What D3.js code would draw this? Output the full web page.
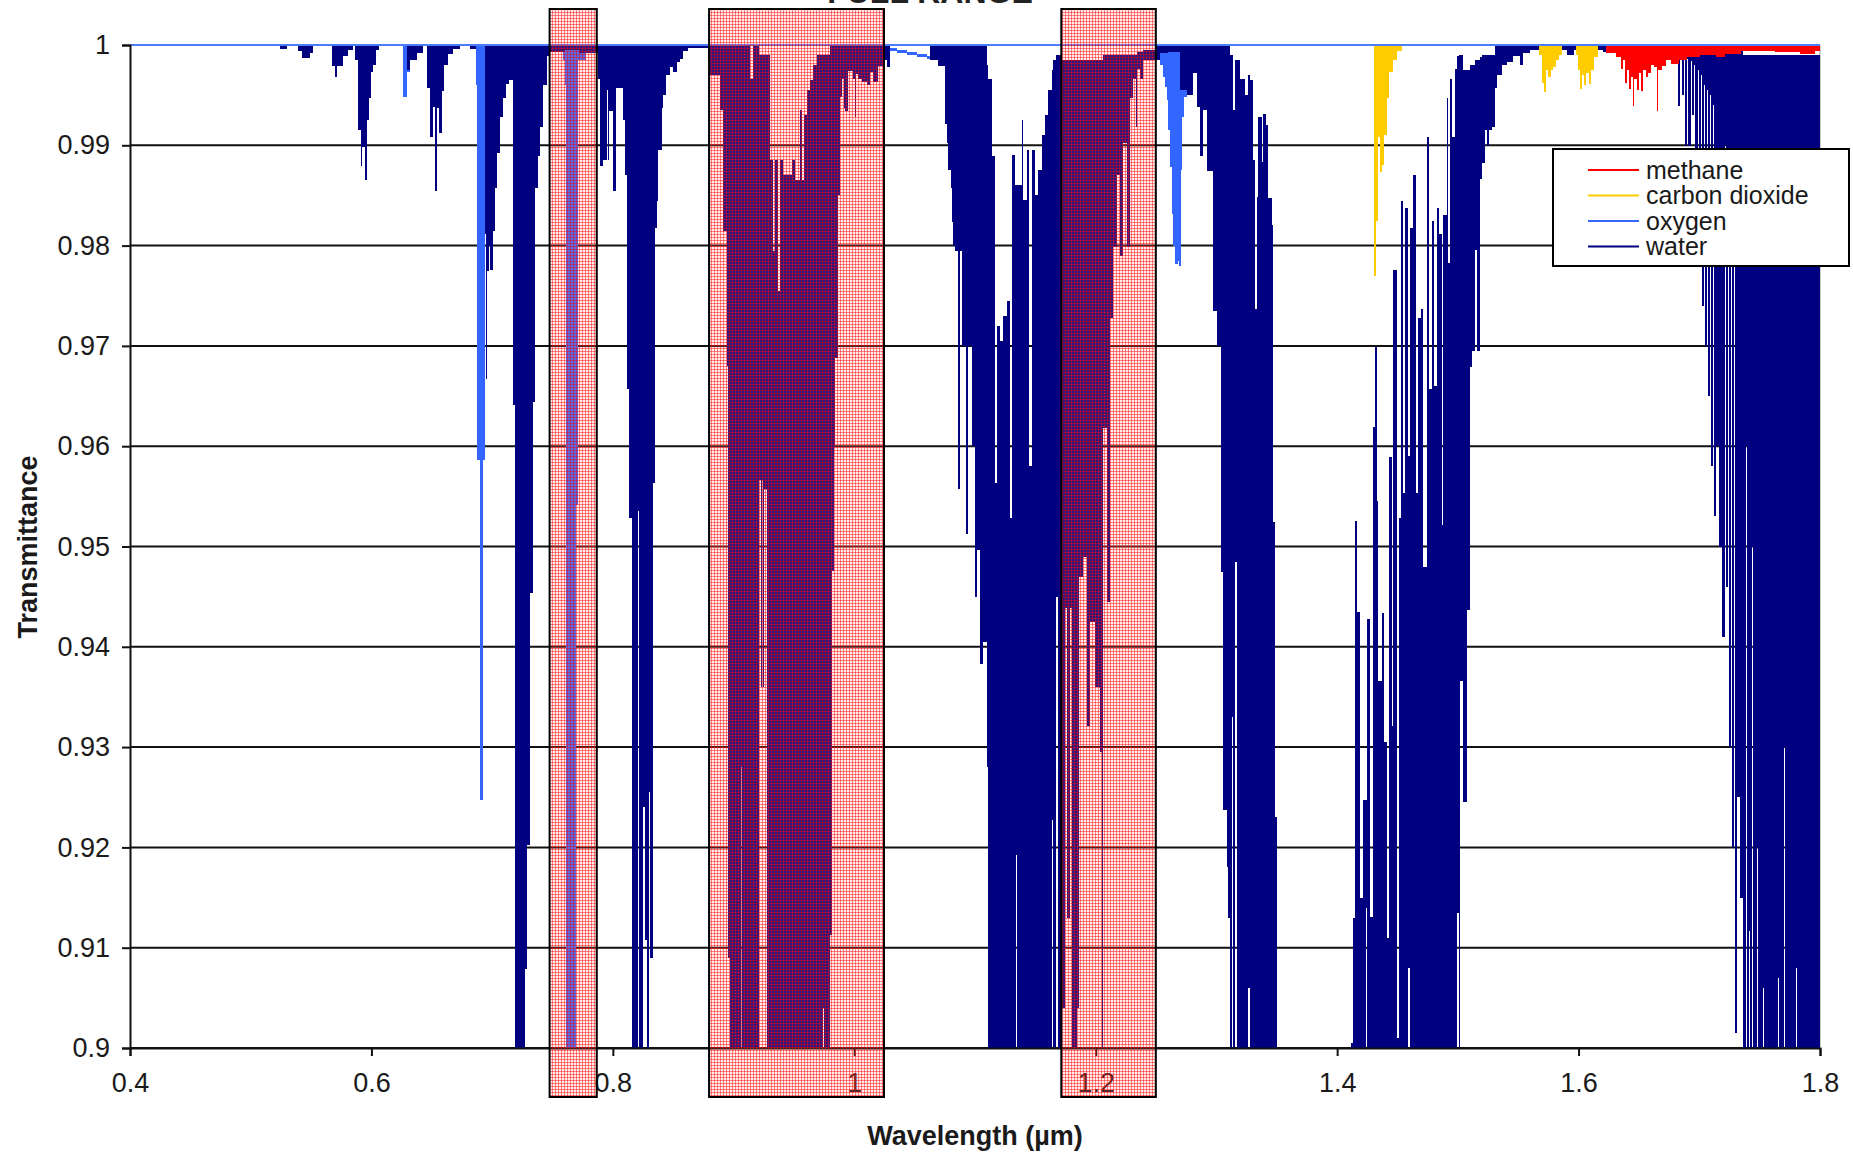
<!DOCTYPE html>
<html>
<head>
<meta charset="utf-8">
<script src="https://cdn.jsdelivr.net/npm/d3@7"></script>
<style>
  body { margin: 0; background: #fff; }
  svg { display: block; }
  text { font-family: "Liberation Sans", Arial, sans-serif; fill: #1a1a1a; }
</style>
</head>
<body>
<svg id="chart" width="1853" height="1153"></svg>
<script>
// axis ticks
const xTicks = [0.4, 0.6, 0.8, 1, 1.2, 1.4, 1.6, 1.8];
const xTickLabels = ['0.4', '0.6', '0.8', '1', '1.2', '1.4', '1.6', '1.8'];
const yTicks = [0.9, 0.91, 0.92, 0.93, 0.94, 0.95, 0.96, 0.97, 0.98, 0.99, 1];
const yTickLabels = ['0.9', '0.91', '0.92', '0.93', '0.94', '0.95', '0.96', '0.97', '0.98', '0.99', '1'];

const seriesNames = ['methane', 'carbon dioxide', 'oxygen', 'water'];
const seriesColors = ['#ff0000', '#ffcc00', '#3366ff', '#000080'];

// wavelength windows marked with the hatched boxes (µm)
const highlightBands = [[0.7476, 0.7867], [0.8797, 1.0246], [1.1715, 1.2498]];

// spectrum, binned: [wavelength µm, lowest T, highest T (default 1)]
// each bin runs until the next entry
const water = [
  [0.5242, 0.9996], [0.5298, 1],
  [0.5394, 0.9994], [0.5422, 0.9987], [0.5491, 0.9992], [0.5518, 1],
  [0.5670, 0.9979], [0.5698, 0.9968], [0.5717, 0.9979], [0.5767, 0.9989], [0.5808, 0.9995], [0.5850, 1],
  [0.5864, 0.9985], [0.5891, 0.9915], [0.5910, 0.9879], [0.5921, 0.9898], [0.5944, 0.9865], [0.5960, 0.9925],
  [0.5977, 0.9947], [0.5993, 0.9973], [0.6015, 0.9980], [0.6037, 0.9995], [0.6065, 1],
  [0.6292, 0.9975], [0.6320, 0.9985], [0.6375, 0.9992], [0.6430, 1],
  [0.6457, 0.9957], [0.6485, 0.9908], [0.6507, 0.9938], [0.6523, 0.9854], [0.6540, 0.9937], [0.6562, 0.9912],
  [0.6581, 0.9954], [0.6601, 0.9980], [0.6637, 0.9991], [0.6678, 0.9996], [0.6733, 1],
  [0.6816, 0.9996], [0.6866, 1],
  [0.6940, 0.9812], [0.6950, 0.9667], [0.6958, 0.9775], [0.6975, 0.9800], [0.6985, 0.9776], [0.7004, 0.9815],
  [0.7023, 0.9857], [0.7043, 0.9892], [0.7065, 0.9928], [0.7087, 0.9947], [0.7112, 0.9961], [0.7137, 0.9965],
  [0.7170, 0.9641], [0.7189, 0.895], [0.7272, 0.9079], [0.7292, 0.9202], [0.7313, 0.9454], [0.7335, 0.9644],
  [0.7355, 0.9857], [0.7382, 0.9889], [0.7396, 0.9918], [0.7424, 0.9960], [0.7451, 0.9989], [0.7468, 0.9993],
  [0.7600, 0.9995], [0.7720, 0.9992],
  [0.7866, 0.9992], [0.7879, 0.9966], [0.7893, 0.9879], [0.7921, 0.9885], [0.7948, 0.9955], [0.7962, 0.9885],
  [0.7970, 0.9934], [0.8001, 0.9854], [0.8026, 0.9957], [0.8087, 0.9925], [0.8100, 0.9870], [0.8120, 0.9657],
  [0.8136, 0.9528], [0.8155, 0.895], [0.8209, 0.9535], [0.8219, 0.895], [0.8252, 0.9240], [0.8269, 0.9108],
  [0.8285, 0.895], [0.8300, 0.9255], [0.8311, 0.9090], [0.8335, 0.9563], [0.8349, 0.9818], [0.8362, 0.9844],
  [0.8376, 0.9895], [0.8404, 0.9937], [0.8418, 0.9950], [0.8440, 0.9970], [0.8473, 0.9978], [0.8501, 0.9973],
  [0.8528, 0.9983], [0.8556, 0.9986], [0.8583, 0.9994], [0.8625, 0.9997],
  [0.8790, 0.9986], [0.8804, 0.9970], [0.8887, 0.9935], [0.8915, 0.9815], [0.8942, 0.9680], [0.8956, 0.9090],
  [0.8970, 0.895], [0.9058, 0.9280], [0.9066, 0.895], [0.9135, 0.895, 0.9966], [0.9165, 0.895],
  [0.9214, 0.9566, 0.999], [0.9225, 0.9360, 0.999], [0.9233, 0.9566, 0.999], [0.9240, 0.9360, 0.999],
  [0.9248, 0.9557, 0.999], [0.9280, 0.895, 0.999], [0.9302, 0.895, 0.9885], [0.9330, 0.895, 0.9795],
  [0.9344, 0.895, 0.9885], [0.9372, 0.895, 0.9755], [0.9385, 0.895, 0.9885], [0.9413, 0.895, 0.9870],
  [0.9480, 0.895, 0.9885], [0.9510, 0.895, 0.9865], [0.9551, 0.895, 0.9935], [0.9565, 0.895, 0.9865],
  [0.9580, 0.895, 0.9930], [0.9606, 0.895, 0.9955], [0.9634, 0.895, 0.9965], [0.9661, 0.895, 0.9980],
  [0.9689, 0.895, 0.999], [0.9738, 0.904, 0.999], [0.9752, 0.895, 0.999], [0.9799, 0.9113], [0.9813, 0.9476],
  [0.9832, 0.9599], [0.9843, 0.9688], [0.9868, 0.9850], [0.9882, 0.9948], [0.9896, 0.9966], [0.9915, 0.9937],
  [0.9921, 0.9966], [0.9924, 0.9934], [0.9951, 0.9974], [0.9993, 0.9966], [1.0003, 0.9928], [1.0011, 0.9971],
  [1.0034, 0.9966], [1.0062, 0.9963], [1.0103, 0.9960], [1.0131, 0.9973], [1.0158, 0.9963], [1.0200, 0.9979],
  [1.0241, 0.9985], [1.0269, 0.9978], [1.0297, 1],
  [1.0628, 0.9985], [1.0697, 0.9979], [1.0752, 0.9921], [1.0766, 0.9902], [1.0780, 0.9875], [1.0799, 0.9857],
  [1.0812, 0.9824], [1.0821, 0.9800], [1.0835, 0.9795], [1.0860, 0.9557], [1.0876, 0.9795], [1.0890, 0.9700],
  [1.0928, 0.9512], [1.0940, 0.9700], [1.0973, 0.9600], [1.1000, 0.9450], [1.1020, 0.9497], [1.1042, 0.9383],
  [1.1069, 0.9405], [1.1097, 0.9280, 0.998], [1.1111, 0.895, 0.9966], [1.1139, 0.895, 0.9889],
  [1.1166, 0.895, 0.9860], [1.1169, 0.895, 0.9563], [1.1180, 0.895, 0.9720], [1.1208, 0.895, 0.9705],
  [1.1235, 0.895, 0.9730], [1.1263, 0.895, 0.9745], [1.1290, 0.895, 0.9528], [1.1304, 0.895, 0.9890],
  [1.1332, 0.895, 0.9860], [1.1340, 0.9192, 0.9860], [1.1351, 0.895, 0.9860], [1.1387, 0.895, 0.9925],
  [1.1401, 0.895, 0.9845], [1.1429, 0.895, 0.9895], [1.1451, 0.895, 0.9580], [1.1470, 0.895, 0.9895],
  [1.1498, 0.895, 0.9850], [1.1525, 0.895, 0.9875], [1.1553, 0.895, 0.9910], [1.1580, 0.895, 0.9930],
  [1.1608, 0.895, 0.9955], [1.1636, 0.9227, 0.9975], [1.1649, 0.895, 0.9985], [1.1671, 0.9450, 0.999],
  [1.1691, 0.895, 0.999],
  [1.1718, 0.904, 0.9985], [1.1746, 0.9439, 0.9985], [1.1765, 0.913, 0.9985], [1.1787, 0.9439, 0.9985],
  [1.1801, 0.895, 0.9985], [1.1843, 0.904, 0.9985], [1.1865, 0.9470, 0.9985], [1.1898, 0.9490, 0.9985],
  [1.1926, 0.9321, 0.9985], [1.1953, 0.9425, 0.9985], [1.1995, 0.9360, 0.9985], [1.2036, 0.9295, 0.9985],
  [1.2050, 0.895, 0.9985], [1.2058, 0.9295, 0.9985], [1.2064, 0.9618, 0.999], [1.2091, 0.9445, 0.999],
  [1.2119, 0.9728, 0.999], [1.2146, 0.9799, 0.999], [1.2174, 0.9870, 0.999], [1.2202, 0.9790, 0.999],
  [1.2229, 0.9902, 0.999], [1.2257, 0.9799, 0.999], [1.2284, 0.9947, 0.999], [1.2312, 0.9966, 0.999],
  [1.2334, 0.9918, 0.999], [1.2340, 0.9976, 0.9993], [1.2367, 0.9966, 0.9993], [1.2395, 0.9985, 0.9995],
  [1.2500, 0.9985], [1.2533, 0.9992], [1.2600, 0.9993], [1.2699, 0.9955], [1.2754, 0.9950], [1.2809, 0.9972],
  [1.2837, 0.9938], [1.2864, 0.9889], [1.2892, 0.9935], [1.2919, 0.9874], [1.2975, 0.9735], [1.3002, 0.9700],
  [1.3036, 0.9475], [1.3058, 0.9237], [1.3085, 0.9180], [1.3099, 0.9130], [1.3113, 0.895, 0.999],
  [1.3127, 0.933, 0.999], [1.3141, 0.895, 0.9935], [1.3155, 0.9485, 0.9985], [1.3168, 0.895, 0.9985],
  [1.3196, 0.895, 0.9966], [1.3237, 0.895, 0.9950], [1.3265, 0.906, 0.9970], [1.3279, 0.895, 0.9965],
  [1.3306, 0.895, 0.9885], [1.3320, 0.895, 0.9737], [1.3334, 0.895, 0.9848], [1.3348, 0.895, 0.9928],
  [1.3375, 0.895, 0.9883], [1.3389, 0.895, 0.9931], [1.3410, 0.895, 0.9920], [1.3430, 0.895, 0.9847],
  [1.3458, 0.895, 0.9821], [1.3472, 0.895, 0.9524], [1.3486, 0.895, 0.9230], [1.3505, 1],
  [1.4112, 0.895, 0.9005], [1.4135, 0.895, 0.913], [1.4151, 0.895, 0.9525], [1.4168, 0.895, 0.9435],
  [1.4190, 0.895, 0.9150], [1.4217, 0.895, 0.9247], [1.4240, 0.914, 0.9247], [1.4245, 0.895, 0.9428],
  [1.4273, 0.895, 0.9131], [1.4295, 0.895, 0.9619], [1.4314, 0.895, 0.9699], [1.4328, 0.895, 0.9545],
  [1.4342, 0.895, 0.9366], [1.4369, 0.895, 0.9434], [1.4389, 0.895, 0.9305], [1.4411, 0.895, 0.911],
  [1.4433, 0.895, 0.9589], [1.4452, 0.895, 0.9321], [1.4466, 0.895, 0.9776], [1.4499, 0.895, 0.901],
  [1.4510, 0.895, 0.9528], [1.4527, 0.895, 0.9844], [1.4549, 0.895, 0.9553], [1.4563, 0.895, 0.9837],
  [1.4590, 0.908, 0.959], [1.4604, 0.895, 0.9818], [1.4632, 0.895, 0.987], [1.4651, 0.895, 0.9553],
  [1.4673, 0.895, 0.9728], [1.4692, 0.895, 0.9737], [1.4709, 0.895, 0.9269], [1.4714, 0.895, 0.948],
  [1.4742, 0.895, 0.9908], [1.4761, 0.895, 0.9657], [1.4783, 0.895, 0.9825], [1.4803, 0.895, 0.966],
  [1.4825, 0.895, 0.9837], [1.4847, 0.895, 0.9812], [1.4866, 0.895, 0.9521], [1.4880, 0.895, 0.9831],
  [1.4908, 0.895, 0.9947], [1.4921, 0.895, 0.9783], [1.4935, 0.895, 0.9966], [1.4949, 0.895, 0.9908],
  [1.4977, 0.895, 0.9976], [1.4996, 0.9135, 0.9989], [1.5010, 0.895, 0.999], [1.5018, 0.9366, 0.999],
  [1.5040, 0.9245, 0.9975], [1.5079, 0.9437, 0.9975], [1.5101, 0.9679, 0.998], [1.5118, 0.9695, 0.998],
  [1.5142, 0.9796, 0.9985], [1.5162, 0.9695, 0.9985], [1.5184, 0.9866, 0.9988], [1.5200, 0.9882, 0.999],
  [1.5225, 0.9915, 0.999], [1.5244, 0.9899, 0.999], [1.5261, 0.9915, 0.999], [1.5280, 0.9918, 0.999],
  [1.5308, 0.9957], [1.5322, 0.9970], [1.5363, 0.9980], [1.5405, 0.9983], [1.5460, 0.9989], [1.5515, 0.9980],
  [1.5543, 0.9992], [1.5598, 0.9995], [1.5700, 0.9990], [1.5760, 0.9995], [1.5800, 0.9988], [1.5840, 0.9995],
  [1.5900, 0.9990], [1.5960, 0.9995], [1.6050, 0.9990], [1.6120, 0.9995], [1.6200, 0.9993], [1.6260, 1],
  [1.6810, 0.9995], [1.6822, 0.9939], [1.6844, 0.9990], [1.6856, 0.9950], [1.6874, 0.9988],
  [1.6882, 0.9899], [1.6902, 0.9986], [1.6910, 0.9899], [1.6930, 0.9984], [1.6938, 0.9930], [1.6956, 0.9980],
  [1.6965, 0.9880], [1.6987, 0.9975], [1.6995, 0.9800], [1.7017, 0.9970], [1.7022, 0.9740], [1.7042, 0.9960],
  [1.7046, 0.9700], [1.7066, 0.9955], [1.7070, 0.9650], [1.7090, 0.9950], [1.7094, 0.9580], [1.7114, 0.9940],
  [1.7118, 0.9530], [1.7138, 0.9930], [1.7142, 0.9600], [1.7162, 0.9920], [1.7166, 0.9500], [1.7186, 0.9910],
  [1.7192, 0.9410], [1.7212, 0.9900], [1.7218, 0.9460], [1.7238, 0.9890], [1.7244, 0.9300], [1.7264, 0.9880],
  [1.7270, 0.9200], [1.7290, 0.9870], [1.7293, 0.9015], [1.7310, 0.9860], [1.7314, 0.9250], [1.7334, 0.9850],
  [1.7338, 0.9150], [1.7358, 0.9840],
  [1.7365, 0.895, 0.999], [1.7384, 0.9600, 0.999], [1.7392, 0.895, 0.999], [1.7408, 0.9117, 0.999],
  [1.7418, 0.895, 0.999], [1.7440, 0.9500, 0.999], [1.7448, 0.895, 0.999], [1.7475, 0.9200, 0.999],
  [1.7483, 0.895, 0.999], [1.7530, 0.9060, 0.999], [1.7538, 0.895, 0.999], [1.7590, 0.9150, 0.999],
  [1.7598, 0.895, 0.999], [1.7650, 0.9070, 0.999], [1.7658, 0.895, 0.999], [1.7700, 0.9300, 0.999],
  [1.7708, 0.895, 0.999], [1.7800, 0.9080, 0.999], [1.7808, 0.895, 0.999], [1.8000, 1]
];

const oxygen = [
  [0.6260, 0.9948], [0.6292, 0.9973], [0.6319, 0.9987], [0.6347, 1],
  [0.6866, 0.9960], [0.6871, 0.895], [0.6877, 0.9586], [0.6899, 0.9247], [0.6921, 0.9586], [0.6941, 0.9990], [0.6948, 1],
  [0.7590, 0.9985], [0.7603, 0.9960], [0.7612, 0.895], [0.7694, 0.9541], [0.7714, 0.9985], [0.7780, 1],
  [1.0269, 0.9994, 0.9997], [1.0350, 0.9992, 0.9995], [1.0440, 0.9990, 0.9993], [1.0520, 0.9988, 0.9991],
  [1.0600, 0.9986, 0.9989], [1.0683, 0.9985, 0.9988], [1.0780, 1],
  [1.2519, 0.9985], [1.2533, 0.9980], [1.2560, 0.9968], [1.2574, 0.9958], [1.2588, 0.9945], [1.2602, 0.9915],
  [1.2616, 0.9878], [1.2630, 0.9832], [1.2644, 0.9800], [1.2657, 0.9782], [1.2679, 0.9785], [1.2688, 0.9560],
  [1.2694, 0.9780], [1.2705, 0.9875], [1.2718, 0.9928], [1.2732, 0.9948], [1.2754, 0.9955], [1.2781, 0.9970],
  [1.2809, 0.9985], [1.2837, 1]
];

const carbonDioxide = [
  [1.4306, 0.9770], [1.4322, 0.9825], [1.4342, 0.9908], [1.4355, 0.9873], [1.4369, 0.9880], [1.4389, 0.9910],
  [1.4411, 0.9947], [1.4433, 0.9973], [1.4466, 0.9985], [1.4494, 0.9994], [1.4535, 1],
  [1.5676, 0.9990], [1.5700, 0.9962], [1.5714, 0.9953], [1.5728, 0.9975], [1.5745, 0.9968], [1.5769, 0.9975],
  [1.5790, 0.9978], [1.5810, 0.9985], [1.5840, 0.9990], [1.5866, 1],
  [1.5980, 0.9990], [1.5995, 0.9975], [1.6010, 0.9956], [1.6030, 0.9970], [1.6048, 0.9960], [1.6065, 0.9972],
  [1.6085, 0.9961], [1.6100, 0.9975], [1.6124, 0.9988], [1.6159, 1]
];

const methane = [
  [1.6228, 0.9992], [1.6314, 0.9988], [1.6349, 0.9976], [1.6366, 0.9985], [1.6383, 0.9962], [1.6401, 0.9975],
  [1.6418, 0.9956], [1.6435, 0.9968], [1.6452, 0.9939], [1.6462, 0.9966], [1.6487, 0.9955], [1.6500, 0.9972],
  [1.6521, 0.9954], [1.6535, 0.9975], [1.6556, 0.9968], [1.6573, 0.9972], [1.6600, 0.9980], [1.6625, 0.9978],
  [1.6652, 0.9934], [1.6662, 0.9975], [1.6694, 0.9979], [1.6728, 0.9985], [1.6763, 0.9981], [1.6832, 0.9985],
  [1.6900, 0.9988], [1.7004, 0.9990], [1.7141, 0.9988], [1.7211, 0.9991], [1.7349, 0.9994], [1.7625, 0.9993],
  [1.7832, 0.9991], [1.7960, 0.9994], [1.8000, 1]
];

const svg = d3.select('#chart');
const margin = { left: 130, right: 1820, top: 45, bottom: 1048 };
const x = d3.scaleLinear().domain([0.4, 1.8]).range([margin.left, margin.right]);
const y = d3.scaleLinear().domain([0.9, 1]).range([margin.bottom, margin.top]);

const defs = svg.append('defs');
defs.append('clipPath').attr('id', 'plot-clip').append('rect')
  .attr('x', margin.left).attr('y', margin.top - 2)
  .attr('width', margin.right - margin.left).attr('height', margin.bottom - margin.top + 2);

const hatch = defs.append('pattern').attr('id', 'hatch').attr('patternUnits', 'userSpaceOnUse')
  .attr('width', 3).attr('height', 3);
hatch.append('rect').attr('width', 3).attr('height', 3).attr('fill', 'rgba(255,140,140,0.16)');
hatch.append('path').attr('d', 'M0,0.5H3M0.5,0V3').attr('stroke', 'rgba(255,0,0,0.45)').attr('stroke-width', 1);

// gridlines
svg.append('g').selectAll('line').data(yTicks).join('line')
  .attr('x1', margin.left).attr('x2', margin.right)
  .attr('y1', d => y(d)).attr('y2', d => y(d))
  .attr('stroke', '#111').attr('stroke-width', 2);

svg.append('line').attr('x1', margin.right).attr('x2', margin.right)
  .attr('y1', margin.top).attr('y2', margin.bottom)
  .attr('stroke', '#9a9a9a').attr('stroke-width', 1);

// spectra
const plot = svg.append('g').attr('clip-path', 'url(#plot-clip)');
const area = d3.area()
  .curve(d3.curveStepAfter)
  .x(d => x(d[0]))
  .y0(d => y(d.length > 2 ? d[2] : 1))
  .y1(d => y(d[1]));

const layers = [
  { data: oxygen, color: seriesColors[2] },
  { data: water, color: seriesColors[3] },
  { data: carbonDioxide, color: seriesColors[1] },
  { data: methane, color: seriesColors[0] }
];
layers.forEach(layer => {
  const sorted = layer.data.slice().sort((a, b) => a[0] - b[0]);
  plot.append('path').datum(sorted).attr('d', area)
    .attr('fill', layer.color).attr('shape-rendering', 'crispEdges');
});

// oxygen baseline at T = 1
plot.append('line').attr('x1', x(0.4)).attr('x2', x(1.8)).attr('y1', y(1)).attr('y2', y(1))
  .attr('stroke', '#4d7dff').attr('stroke-width', 2);

// axes
const xAxis = svg.append('g').attr('transform', `translate(0,${margin.bottom})`)
  .call(d3.axisBottom(x).tickValues(xTicks).tickFormat((d, i) => xTickLabels[i]).tickSize(8).tickPadding(10));
const yAxis = svg.append('g').attr('transform', `translate(${margin.left},0)`)
  .call(d3.axisLeft(y).tickValues(yTicks).tickFormat((d, i) => yTickLabels[i]).tickSize(8).tickPadding(12));
[xAxis, yAxis].forEach(g => {
  g.select('.domain').attr('stroke', '#111').attr('stroke-width', 2);
  g.selectAll('.tick line').attr('stroke', '#111').attr('stroke-width', 2);
  g.selectAll('.tick text').attr('font-size', 27).attr('fill', '#1a1a1a')
    .attr('font-family', '"Liberation Sans", Arial, sans-serif');
});
xAxis.selectAll('.tick text').attr('dy', '0.95em');

// hatched windows
svg.append('g').selectAll('rect').data(highlightBands).join('rect')
  .attr('x', d => x(d[0])).attr('width', d => x(d[1]) - x(d[0]))
  .attr('y', 9).attr('height', 1088)
  .attr('fill', 'url(#hatch)').attr('stroke', '#000').attr('stroke-width', 2);

// titles
svg.append('text').attr('x', 930).attr('y', 3).attr('text-anchor', 'middle')
  .attr('font-size', 32).attr('font-weight', 'bold').style('fill', '#222').text('FULL RANGE');
svg.append('text').attr('x', 975).attr('y', 1145).attr('text-anchor', 'middle')
  .attr('font-size', 27).attr('font-weight', 'bold').text('Wavelength (µm)');
svg.append('text').attr('transform', 'translate(37,547) rotate(-90)').attr('text-anchor', 'middle')
  .attr('font-size', 27).attr('font-weight', 'bold').text('Transmittance');

// legend
const legend = svg.append('g');
legend.append('rect').attr('x', 1553).attr('y', 149).attr('width', 296).attr('height', 117)
  .attr('fill', '#fff').attr('stroke', '#000').attr('stroke-width', 2);
const rows = legend.selectAll('g.row').data(seriesNames).join('g').attr('class', 'row')
  .attr('transform', (d, i) => `translate(0,${170 + i * 25.5})`);
rows.append('line').attr('x1', 1588).attr('x2', 1639)
  .attr('stroke', (d, i) => seriesColors[i]).attr('stroke-width', 2);
rows.append('text').attr('x', 1646).attr('dy', '0.35em').attr('font-size', 25).text(d => d);
</script>
</body>
</html>
